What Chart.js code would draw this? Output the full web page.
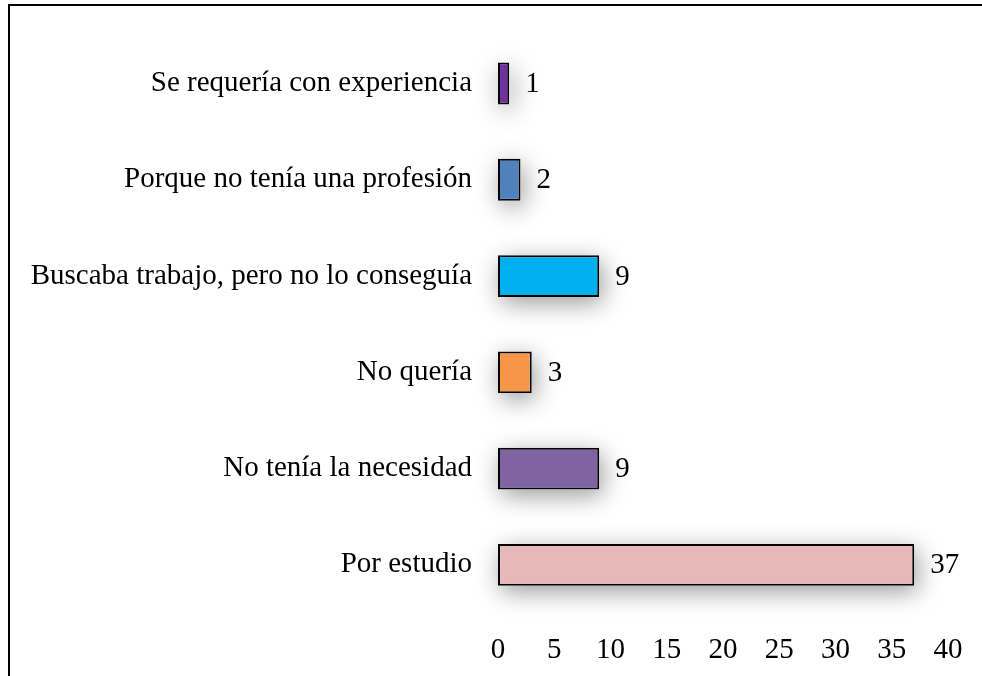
<!DOCTYPE html>
<html>
<head>
<meta charset="utf-8">
<script src="https://cdn.jsdelivr.net/npm/chart.js@4"></script>
<style>
    html, body { margin: 0; padding: 0; background: #fff; }
    #wrap { position: relative; width: 982px; height: 676px; overflow: hidden; }
    #frame {
        position: absolute; left: 8px; top: 4px; right: -10px; bottom: -10px;
        border-top: 2px solid #000; border-left: 2px solid #000;
    }
    canvas { position: absolute; left: 0; top: 0; }
</style>
</head>
<body>
<div id="wrap">
    <div id="frame"></div>
    <canvas id="chart" width="982" height="676"></canvas>
</div>
<script>
const categories = [
    'Se requería con experiencia',
    'Porque no tenía una profesión',
    'Buscaba trabajo, pero no lo conseguía',
    'No quería',
    'No tenía la necesidad',
    'Por estudio'
];
const values = [1, 2, 9, 3, 9, 37];
const barColors = ['#7030A0', '#4F81BD', '#00B0F0', '#F79646', '#8064A2', '#E6B9B8'];
const tickValues = [0, 5, 10, 15, 20, 25, 30, 35, 40];

const FONT = { family: '"Liberation Serif", "Times New Roman", serif', size: 29 };

// soft drop shadow under each bar
const barShadow = {
    id: 'barShadow',
    beforeDatasetsDraw(chart) {
        const ctx = chart.ctx;
        const meta = chart.getDatasetMeta(0);
        ctx.save();
        ctx.shadowColor = 'rgba(0,0,0,0.4)';
        ctx.shadowBlur = 24;
        ctx.shadowOffsetX = 3;
        ctx.shadowOffsetY = 6;
        ctx.fillStyle = '#fff';
        meta.data.forEach(bar => {
            const left = Math.min(bar.base, bar.x);
            const w = Math.abs(bar.x - bar.base);
            ctx.fillRect(left, bar.y - bar.height / 2, w, bar.height);
        });
        ctx.restore();
    }
};

// value labels at the end of the bars
const valueLabels = {
    id: 'valueLabels',
    afterDatasetsDraw(chart) {
        const ctx = chart.ctx;
        const meta = chart.getDatasetMeta(0);
        ctx.save();
        ctx.font = FONT.size + 'px ' + FONT.family;
        ctx.fillStyle = '#000';
        ctx.textAlign = 'left';
        ctx.textBaseline = 'middle';
        meta.data.forEach((bar, i) => {
            ctx.fillText(String(values[i]), bar.x + 16, bar.y + 1);
        });
        ctx.restore();
    }
};

new Chart(document.getElementById('chart'), {
    type: 'bar',
    plugins: [barShadow, valueLabels],
    data: {
        labels: categories,
        datasets: [{
            data: values,
            backgroundColor: barColors,
            borderColor: '#000',
            borderWidth: 2,
            borderSkipped: false,
            categoryPercentage: 1,
            barPercentage: 0.435
        }]
    },
    options: {
        indexAxis: 'y',
        responsive: false,
        animation: false,
        devicePixelRatio: 1,
        layout: { padding: { top: 24, right: 34, bottom: 0, left: 0 } },
        plugins: { legend: { display: false }, tooltip: { enabled: false } },
        scales: {
            x: {
                min: 0,
                max: 40,
                afterFit(scale) { scale.height = 63; },
                afterBuildTicks(scale) { scale.ticks = tickValues.map(v => ({ value: v })); },
                grid: { display: false },
                border: { display: false },
                ticks: { font: FONT, color: '#000', padding: 12, maxRotation: 0 }
            },
            y: {
                afterFit(scale) { scale.width = 498; },
                grid: { display: false },
                border: { display: false },
                ticks: { font: FONT, color: '#000', padding: 18 }
            }
        }
    }
});
</script>
</body>
</html>
